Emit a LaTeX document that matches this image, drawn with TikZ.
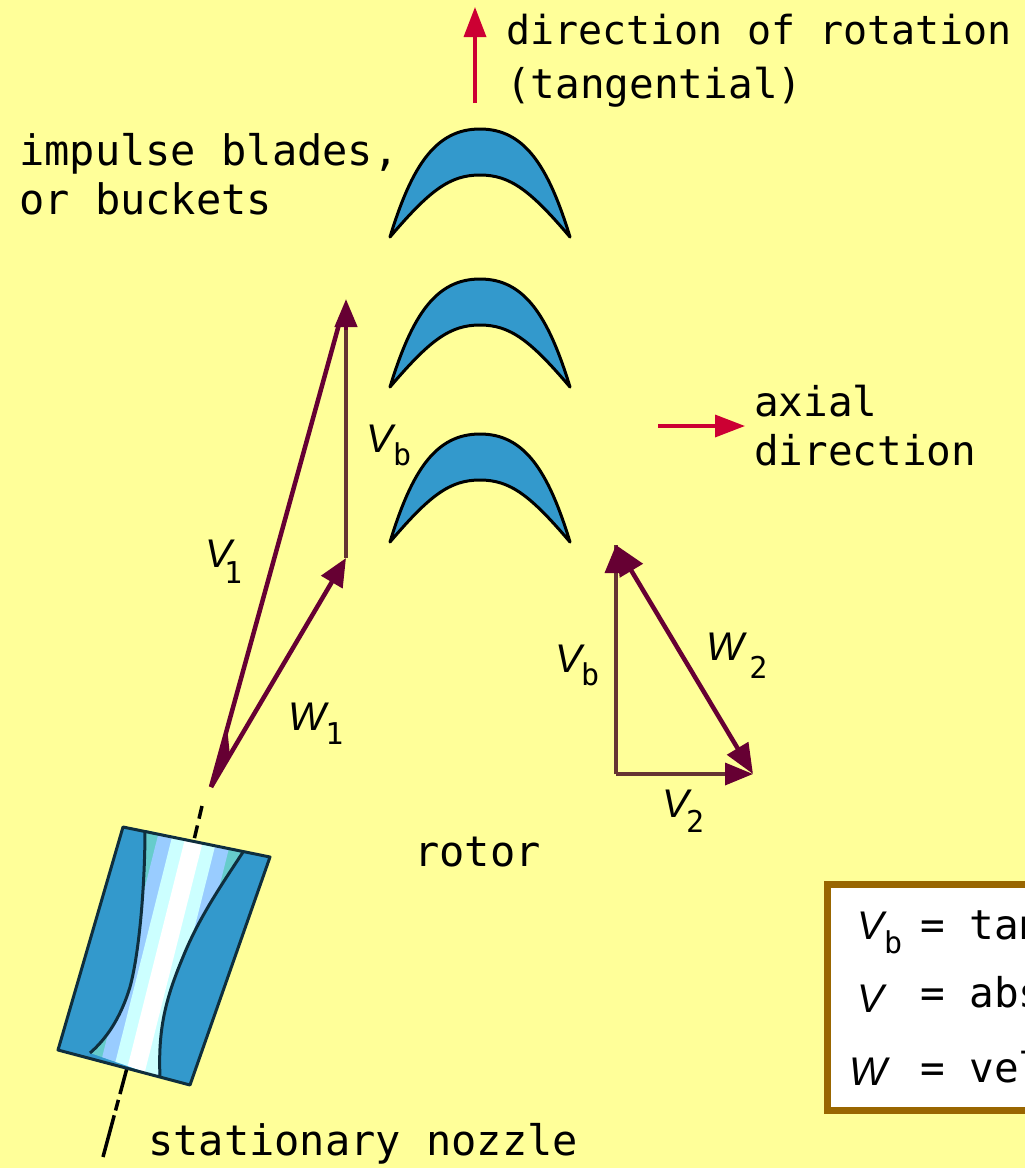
\documentclass[tikz,border=0pt]{standalone}
\usepackage{fontspec}
\setmainfont{DejaVu Sans Mono}
\newfontfamily\symfont{Liberation Sans}
\usetikzlibrary{arrows.meta,calc}
\definecolor{bgy}{HTML}{FFFF99}
\definecolor{bladeblue}{HTML}{3399CC}
\definecolor{maroon}{HTML}{660033}
\definecolor{vbline}{HTML}{663333}
\definecolor{redarrow}{HTML}{CC0033}
\definecolor{framebrown}{HTML}{996600}
\definecolor{bandteal}{HTML}{66CCCC}
\definecolor{bandblue}{HTML}{99CCFF}
\definecolor{bandpale}{HTML}{CCFFFF}
\tikzset{
  x=1pt,y=-1pt,
  lab/.style={font=\fontsize{41}{50}\selectfont,anchor=base west,inner sep=0pt,text=black,align=left},
  labwide/.style={lab,font=\fontsize{42}{50}\selectfont},
  labnarrow/.style={lab,font=\fontsize{40}{50}\selectfont},
  sym/.style={font=\symfont\itshape\fontsize{40}{40}\selectfont,anchor=base west,inner sep=0pt},
  vecline/.style={draw=maroon,line width=4.5pt},
  vec/.style={vecline,-{Triangle[length=28pt,width=24pt]}},
  vecplain/.style={draw=vbline,line width=3.5pt},
  redvec/.style={draw=redarrow,line width=3.5pt,-{Triangle[length=30pt,width=22pt]}},
  bladeshape/.style={fill=bladeblue,draw=black,line width=3pt,line join=round},
  noz/.style={draw=black!70!bladeblue,line width=3pt},
}
\newcommand{\vlab}[4]{#1\kern#3pt\raisebox{-#4pt}{\normalfont\fontsize{30}{30}\selectfont #2}}
\newcommand{\bladeat}[1]{%
  \draw[bladeshape,yshift=#1] (390,237) .. controls (412,165) and (436,129) .. (480,129)
    .. controls (524,129) and (548,165) .. (570,237)
    .. controls (530,190) and (510,175) .. (480,175)
    .. controls (450,175) and (430,190) .. (390,237) -- cycle;}
\begin{document}
\begin{tikzpicture}
\useasboundingbox (0,0) rectangle (1025,1168);
\clip (0,0) rectangle (1025,1168);
\fill[bgy] (0,0) rectangle (1025,1168);

% blades
\bladeat{0pt}
\bladeat{-150pt}
\bladeat{-305pt}

% nozzle axis
\coordinate (axA) at (202,806);
\coordinate (axB) at (194,840);
\coordinate (axC) at (127,1068);
\coordinate (axD) at (103,1157);
\draw[black,line width=3.5pt,dash pattern=on 13pt off 7pt] (axA) -- (axB);
\draw[black,line width=3.5pt,dash pattern=on 27pt off 6pt on 11pt off 5pt on 45pt] (axC) -- (axD);

% nozzle body
\fill[bladeblue] (123,827) -- (270,857) -- (190,1085) -- (58,1050) -- cycle;
\begin{scope}
  \clip (145,830) .. controls (145,880) and (140,950) .. (130,987)
      .. controls (120,1020) and (105,1040) .. (90,1053)
      -- (160,1077) .. controls (158,1030) and (165,1000) .. (183,957)
      .. controls (200,915) and (225,880) .. (243,852) -- cycle;
  \fill[bandteal] (50,800) rectangle (300,1100);
  \draw[bandblue,line width=72pt] (204,800) -- (126,1110);
  \draw[bandpale,line width=44pt] (204,800) -- (126,1110);
  \draw[white,line width=18pt] (204,800) -- (126,1110);
\end{scope}
\draw[noz] (145,830) .. controls (145,880) and (140,950) .. (130,987)
      .. controls (120,1020) and (105,1040) .. (90,1053);
\draw[noz] (160,1077) .. controls (158,1030) and (165,1000) .. (183,957)
      .. controls (200,915) and (225,880) .. (243,852);
\draw[noz,line join=round] (123,827) -- (270,857) -- (190,1085) -- (58,1050) -- cycle;

% inlet velocity triangle
\coordinate (O) at (211,787);
\coordinate (Vone) at (346,299);
\coordinate (Wone) at (346,558);
\fill[maroon] (O) -- ($(O)!0.12!(Vone)$) -- ($(O)!0.14!(Wone)$) -- cycle;
\draw[vecline] (O) -- ($(O)!0.95!(Vone)$);
\draw[vec] (O) -- (Wone);
\draw[vecplain] (Wone) -- (346,330);
\draw[vecline,-{Triangle[length=28pt,width=22pt]}] (346,330) -- (Vone);

% outlet velocity triangle
\coordinate (C) at (616,774);
\coordinate (T) at (616,545);
\coordinate (R) at (753,774);
\draw[vecplain] (C) -- (T);
\draw[vec,{Triangle[length=30pt,width=26pt]}-{Triangle[length=30pt,width=24pt]}] (T) -- (R);
\draw[vecplain,-{Triangle[length=28pt,width=22pt,fill=maroon,color=maroon]}] (C) -- (R);
\draw[vecplain,-{Triangle[length=28pt,width=22pt,fill=maroon,color=maroon]}] (C) -- (T);

% red direction arrows
\coordinate (rotS) at (475,103);
\coordinate (rotE) at (475,7);
\coordinate (axS) at (658,426);
\coordinate (axE) at (745,426);
\draw[redvec] (rotS) -- (rotE);
\draw[redvec] (axS) -- (axE);

% texts
\node[labnarrow] (t1) at (506,44) {direction of rotation};
\node[lab] (t2) at (506,98) {(tangential)};
\node[labwide] (t3) at (19,165) {impulse blades,};
\node[labwide] (t4) at (19,214) {or buckets};
\node[lab] (t5) at (754,416) {axial};
\node[lab] (t6) at (754,465) {direction};
\node[labwide] (t7) at (414,866) {rotor};
\node[labwide] (t8) at (148,1155) {stationary nozzle};

\node[sym] (s1) at (366,452) {\vlab{V}{b}{0.3}{13}};
\node[sym] (s2) at (205,567) {\vlab{V}{1}{-7.7}{16}};
\node[sym] (s3) at (288,730) {\vlab{W}{1}{-0.7}{14}};
\node[sym] (s4) at (555,672) {\vlab{V}{b}{-0.7}{13}};
\node[sym] (s5) at (706,660) {\vlab{W}{2}{5.3}{18}};
\node[sym] (s6) at (662,817) {\vlab{V}{2}{-2.7}{15}};

% legend
\draw[framebrown,fill=white,line width=7pt] (827,884.5) rectangle (1060,1110.5);
\node[sym] (k1) at (857,939) {\vlab{V}{b}{0.3}{14}};
\node[lab] (k1t) at (920,939) {= tan};
\node[sym] (k2) at (857,1012) {V};
\node[lab] (k2t) at (920,1007) {= abs};
\node[sym] (k3) at (849,1085) {W};
\node[lab] (k3t) at (920,1082) {= vel};
\end{tikzpicture}
\end{document}
